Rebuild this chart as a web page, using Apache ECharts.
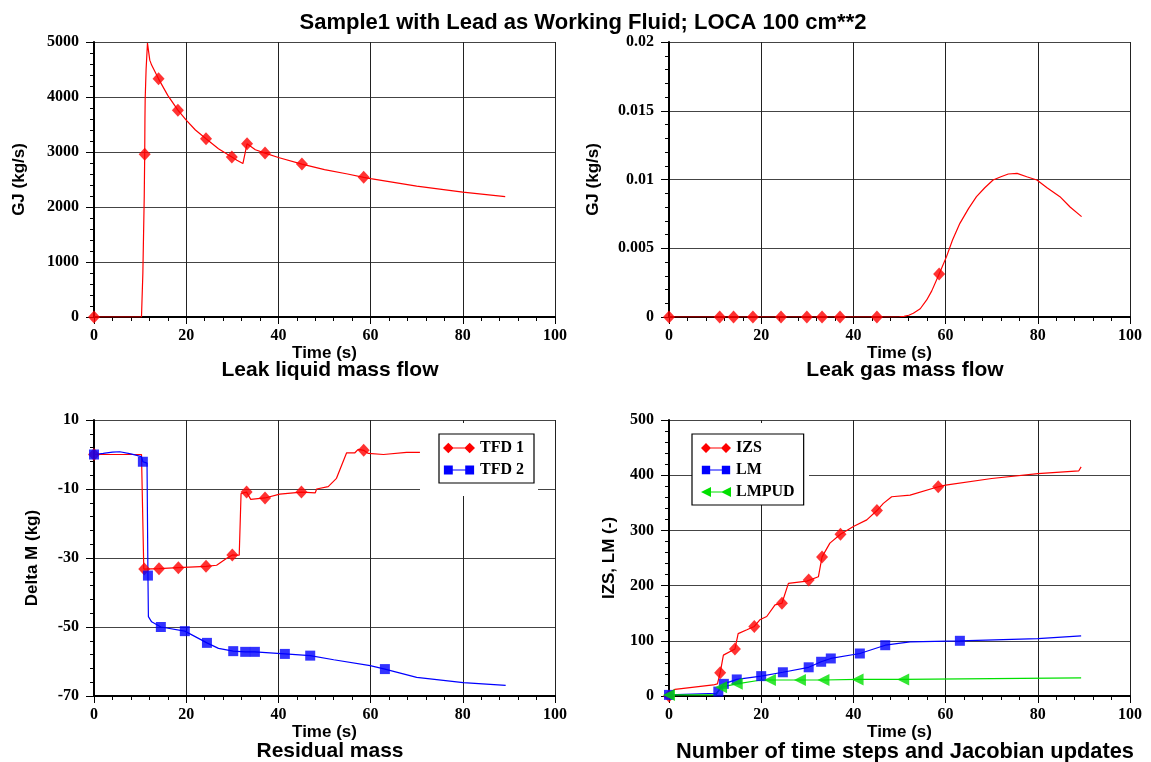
<!DOCTYPE html>
<html>
<head>
<meta charset="utf-8">
<script src="https://cdn.jsdelivr.net/npm/echarts@6/dist/echarts.min.js"></script>
<style>html,body{margin:0;padding:0;background:#fff}#c{width:1151px;height:762px}</style>
</head>
<body>
<div id="c"></div>
<script>
// ---------- data ----------
const mainTitle = 'Sample1 with Lead as Working Fluid; LOCA 100 cm**2';
const panelTitles = ['Leak liquid mass flow', 'Leak gas mass flow', 'Residual mass', 'Number of time steps and Jacobian updates'];
const yNames = ['GJ (kg/s)', 'GJ (kg/s)', 'Delta M (kg)', 'IZS, LM (-)'];
const xName = 'Time (s)';

const liqCurve = [[0,0],[10.3,0],[10.6,800],[10.9,2200],[11.0,2960],[11.05,3600],[11.1,3960],[11.3,4500],[11.6,4980],[12.1,4670],[12.5,4580],[14.0,4330],[16,4030],[18.2,3760],[20,3580],[22,3400],[24.3,3240],[27,3060],[29.9,2910],[31,2850],[32.3,2790],[33.2,3150],[35,3040],[37.1,2980],[40,2900],[45.1,2780],[50,2680],[55,2600],[58.5,2540],[60,2515],[70,2380],[80,2270],[89.2,2190]];
const liqMarks = [[0,0],[11.0,2960],[14.0,4330],[18.2,3760],[24.3,3240],[29.9,2910],[33.2,3150],[37.1,2980],[45.1,2780],[58.5,2540]];

const gasCurve = [[0,0],[45,0],[48.6,0],[50,0.00002],[51,0.00005],[52,0.00013],[53,0.00027],[54.5,0.0006],[55.9,0.00124],[57,0.0019],[58.6,0.00313],[60.2,0.00439],[61.5,0.0056],[63.1,0.00681],[65,0.0079],[66.7,0.00875],[68.5,0.0094],[70.3,0.00996],[72,0.0102],[73.6,0.0104],[75.5,0.01045],[77.6,0.0102],[79.8,0.00996],[82,0.0094],[84.8,0.00875],[87,0.008],[89.5,0.0073]];
const gasMarks = [[0,0],[11,0],[14,0],[18.2,0],[24.3,0],[29.9,0],[33.2,0],[37.1,0],[45.1,0],[58.6,0.00313]];

const tfd1Curve = [[0,0],[10.3,0],[10.6,-0.3],[10.8,-33.2],[10.9,-33.2],[14.1,-33.1],[18.3,-32.8],[24.3,-32.4],[26.6,-32.1],[28.8,-30.1],[30.0,-29.1],[31.5,-29.2],[31.9,-11.3],[33.1,-10.9],[34.0,-13],[37.1,-12.6],[40.3,-11.5],[45.0,-10.9],[48.0,-11.1],[48.3,-10],[50.8,-9.3],[52.6,-6.9],[54.8,0.5],[56.6,0.5],[57.3,1.5],[58.5,1.2],[59.5,0.3],[62.8,0],[67.8,0.6],[70.7,0.6]];
const tfd1Marks = [[0,0],[10.9,-33.2],[14.1,-33.1],[18.3,-32.8],[24.3,-32.4],[30.0,-29.1],[33.1,-10.9],[37.1,-12.6],[45.0,-10.9],[58.5,1.2]];
const tfd2Curve = [[0,0],[2,0.3],[4,0.7],[5.6,0.8],[8,0.2],[10.3,-0.6],[10.6,-2.1],[11.5,-2.5],[11.7,-35],[11.8,-47],[12.5,-48.5],[14.5,-50],[19.7,-51.2],[24.5,-54.6],[27,-56.2],[30.2,-57],[32.8,-57.2],[34.9,-57.2],[41.4,-57.8],[46.9,-58.3],[52,-59.5],[59.9,-61.2],[63.1,-62.2],[70,-64.6],[80.1,-66.1],[89.3,-66.9]];
const tfd2Marks = [[0,0],[10.6,-2.1],[11.7,-35.1],[14.5,-50],[19.7,-51.2],[24.5,-54.6],[30.2,-57],[32.8,-57.2],[34.9,-57.2],[41.4,-57.8],[46.9,-58.3],[63.1,-62.2]];

const izsCurve = [[0,0],[0.5,8],[1.3,12],[9.6,20],[10.5,22],[11.1,42],[11.8,74],[14.3,85],[15,113],[16.9,120],[18.5,126],[19.7,138],[21.2,144],[23,165],[24.5,168],[25.9,204],[29.9,208],[30.3,210],[32.4,216],[33.2,252],[34.9,277],[37.2,293],[40,307],[42.9,319],[45.1,336],[46.5,349],[48.3,361],[52.3,364],[58.4,379],[60,382],[70,394],[80,403],[88.9,408],[89.4,415]];
const izsMarks = [[0,0],[11.1,42],[14.3,85],[18.5,126],[24.5,168],[30.3,210],[33.2,252],[37.2,293],[45.1,336],[58.4,379]];
const lmCurve = [[0,2],[10.3,5],[10.7,8],[11.9,22],[14.7,30],[20,36],[24.7,43],[30.3,52],[33,62],[35.1,68],[41.4,77],[46.9,92],[52.3,98],[63.1,100],[80,104],[89.4,109]];
const lmMarks = [[0,2],[10.7,8],[11.9,22],[14.7,30],[20,36],[24.7,43],[30.3,52],[33,62],[35.1,68],[41.4,77],[46.9,92],[63.1,100]];
const lmpudCurve = [[0,2],[10.2,2],[11.3,16],[14.7,22],[20,29],[21.9,29],[28.4,29],[33.5,29],[40.9,30],[50.8,30],[89.4,33]];
const lmpudMarks = [[0,2],[11.3,16],[14.7,22],[21.9,29],[28.4,29],[33.5,29],[40.9,30],[50.8,30]];

const xTicks = {min: 0, max: 100, interval: 20};
const yTicks = [
  {min: 0, max: 5000, interval: 1000},
  {min: 0, max: 0.02, interval: 0.005},
  {min: -70, max: 10, interval: 20},
  {min: 0, max: 500, interval: 100}
];

// ---------- styling ----------
const RED = '#ff0000', BLUE = '#0000ff', GREEN = '#00e000';
const SERIF = 'Liberation Serif', SANS = 'Liberation Sans';
const grids = [
  {left: 94, top: 42, width: 461, height: 275},
  {left: 669, top: 42, width: 461, height: 275},
  {left: 94, top: 420, width: 461, height: 276},
  {left: 669, top: 420, width: 461, height: 276}
];
const yNameGaps = [66, 67, 53, 51];

const xAxes = grids.map((g, i) => ({
  gridIndex: i, type: 'value', min: xTicks.min, max: xTicks.max, interval: xTicks.interval,
  name: xName, nameLocation: 'middle', nameGap: 24,
  nameTextStyle: {fontFamily: SANS, fontWeight: 'bold', fontSize: 17, color: '#000'},
  axisLine: {show: true, onZero: false, lineStyle: {color: '#000', width: 2}},
  axisTick: {show: true, length: 7, lineStyle: {color: '#000'}},
  minorTick: {show: true, splitNumber: 5, length: 4, lineStyle: {color: '#000'}},
  splitLine: {show: true, lineStyle: {color: '#222', width: 1}},
  axisLabel: {fontFamily: SERIF, fontWeight: 'bold', fontSize: 16, color: '#000', margin: 11}
}));
const yAxes = grids.map((g, i) => ({
  gridIndex: i, type: 'value', min: yTicks[i].min, max: yTicks[i].max, interval: yTicks[i].interval,
  name: yNames[i], nameLocation: 'middle', nameGap: yNameGaps[i],
  nameTextStyle: {fontFamily: SANS, fontWeight: 'bold', fontSize: 17, color: '#000'},
  axisLine: {show: true, onZero: false, lineStyle: {color: '#000', width: 2}},
  axisTick: {show: true, length: 8, lineStyle: {color: '#000'}},
  minorTick: {show: true, splitNumber: 5, length: 4, lineStyle: {color: '#000'}},
  splitLine: {show: true, lineStyle: {color: '#444', width: 1.2}},
  axisLabel: {fontFamily: SERIF, fontWeight: 'bold', fontSize: 16, color: '#000', margin: 15,
    formatter: v => String(+v.toPrecision(6))}
}));

function curve(name, idx, data, color) {
  return {name, type: 'line', xAxisIndex: idx, yAxisIndex: idx, data, showSymbol: false, symbol: 'none',
    lineStyle: {color, width: 1.2}, itemStyle: {color}, animation: false, z: 2};
}
function marks(name, idx, data, color, symbol, size, rot) {
  return {name, type: 'scatter', xAxisIndex: idx, yAxisIndex: idx, data, symbol, symbolSize: size,
    symbolRotate: rot || 0, itemStyle: {color}, animation: false, z: 3};
}

const ICON_DIAMOND = 'path://M0,6L6,0L12,6L6,12ZM11,5.3L25,5.3L25,6.7L11,6.7ZM24,6L30,0L36,6L30,12Z';
const ICON_SQUARE = 'path://M1,1L11,1L11,11L1,11ZM11,5.3L25,5.3L25,6.7L11,6.7ZM25,1L35,1L35,11L25,11ZM0,0L0.01,0L0.01,0.01ZM36,12L35.99,12L35.99,11.99Z';
const ICON_TRI = 'path://M0,6L12,0L12,12ZM11,5.3L25,5.3L25,6.7L11,6.7ZM24,6L36,0L36,12Z';

const legendText = {fontFamily: SERIF, fontWeight: 'bold', fontSize: 16, color: '#000'};
const subTitleStyle = {fontFamily: SANS, fontWeight: 'bold', fontSize: 21, color: '#000'};

const option = {
  backgroundColor: '#fff',
  animation: false,
  title: [
    {text: mainTitle, left: 578, top: 7, textAlign: 'center',
      textStyle: {fontFamily: SANS, fontWeight: 'bold', fontSize: 22, color: '#000'}},
    {text: panelTitles[0], left: 325, top: 355, textAlign: 'center', textStyle: subTitleStyle},
    {text: panelTitles[1], left: 900, top: 355, textAlign: 'center', textStyle: subTitleStyle},
    {text: panelTitles[2], left: 325, top: 736, textAlign: 'center', textStyle: subTitleStyle},
    {text: panelTitles[3], left: 900, top: 736, textAlign: 'center',
      textStyle: Object.assign({}, subTitleStyle, {fontSize: 21.8})}
  ],
  grid: grids,
  xAxis: xAxes,
  yAxis: yAxes,
  legend: [
    {data: [{name: 'TFD 1', icon: ICON_DIAMOND}, {name: 'TFD 2', icon: ICON_SQUARE}],
      orient: 'vertical', left: 439, top: 434, itemWidth: 32, itemHeight: 11, itemGap: 6,
      padding: [6, 10, 5, 4], borderColor: '#000', borderWidth: 1.2, backgroundColor: '#fff',
      textStyle: legendText, z: 6},
    {data: [{name: 'IZS', icon: ICON_DIAMOND}, {name: 'LM', icon: ICON_SQUARE}, {name: 'LMPUD', icon: ICON_TRI}],
      orient: 'vertical', left: 692, top: 434, itemWidth: 30, itemHeight: 11, itemGap: 6,
      padding: [6, 9, 5, 9], borderColor: '#000', borderWidth: 1.2, backgroundColor: '#fff',
      textStyle: legendText, z: 6}
  ],
  graphic: [
    {type: 'rect', shape: {x: 420, y: 423, width: 118, height: 73}, style: {fill: '#fff'}, z: 5, silent: true},
    {type: 'rect', shape: {x: 692, y: 423, width: 117, height: 73}, style: {fill: '#fff'}, z: 5, silent: true}
  ],
  series: [
    curve('GJ liq', 0, liqCurve, RED),
    marks('GJ liq m', 0, liqMarks, RED, 'diamond', [12, 13]),
    curve('GJ gas', 1, gasCurve, RED),
    marks('GJ gas m', 1, gasMarks, RED, 'diamond', [12, 13]),
    curve('TFD 1', 2, tfd1Curve, RED),
    marks('TFD 1 m', 2, tfd1Marks, RED, 'diamond', [12, 13]),
    curve('TFD 2', 2, tfd2Curve, BLUE),
    marks('TFD 2 m', 2, tfd2Marks, BLUE, 'rect', 10),
    curve('IZS', 3, izsCurve, RED),
    marks('IZS m', 3, izsMarks, RED, 'diamond', [12, 13]),
    curve('LM', 3, lmCurve, BLUE),
    marks('LM m', 3, lmMarks, BLUE, 'rect', 10),
    curve('LMPUD', 3, lmpudCurve, GREEN),
    marks('LMPUD m', 3, lmpudMarks, GREEN, 'triangle', 12, 90)
  ]
};

const chart = echarts.init(document.getElementById('c'), null, {renderer: 'canvas'});
chart.setOption(option);
</script>
</body>
</html>
